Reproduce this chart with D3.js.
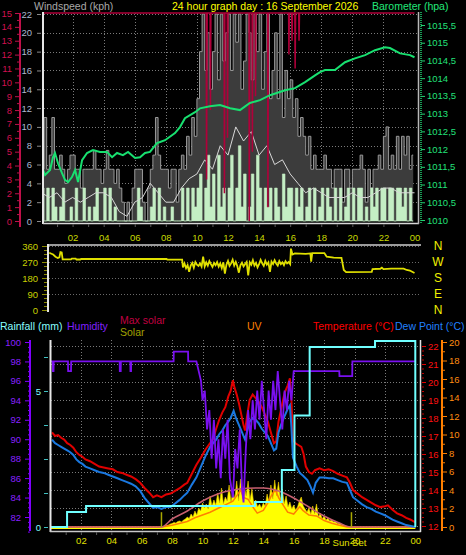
<!DOCTYPE html>
<html><head><meta charset="utf-8">
<script src="https://cdn.jsdelivr.net/npm/d3@7/dist/d3.min.js"></script>
<style>
html,body{margin:0;padding:0;background:#000;overflow:hidden}
svg{display:block}
</style></head><body>
<svg id="chart" width="466" height="555"></svg>
<script>
// ---------------- DATA ----------------
const hourTicks = [2,4,6,8,10,12,14,16,18,20,22,24];
const hourLabels = ["02","04","06","08","10","12","14","16","18","20","22","00"];
const windTicks = [0,2,4,6,8,10,12,14,16,18,20,22];
const crimsonTicks = [0,1,2,3,4,5,6,7,8,9,10,11,12,13,14,15];
const baroTicks = [1010,1010.5,1011,1011.5,1012,1012.5,1013,1013.5,1014,1014.5,1015,1015.5];
const dirTicks = [0,90,180,270,360];
const compassLabels = ["N","W","S","E","N"];
const humTicks = [82,84,86,88,90,92,94,96,98,100];
const rainTicks = [0,1.25,2.5,3.75,5,6.25];
const rainLabelled = [0,5];
const tempTicks = [12,13,14,15,16,17,18,19,20,21,22];
const uvTicks = [0,2,4,6,8,10,12,14,16,18,20];
const sunTimes = [7.3, 19.8];
const sampleMinutes = 10;

// wind gust (kph), one value per 10 minutes
const gust = [
 5.5,11,5.5,7,11,5.5,   5.5,7,5.5,4,5.5,7,   7,5.5,5.5,3.5,5.5,5.5,   5.5,5.5,7.5,5.5,5.5,4,
 5.5,7.5,5.5,5.5,4,5.5, 3.5,2,0,2,0,3.5,     5.5,5.5,5.5,2,0,3.5,     5.5,7,11,7,5.5,5.5,
 5.5,3.5,5.5,5.5,2,5.5, 7,5.5,9,7,11,9,      13,18,22,16,20,14,       18,22,15,22,17,20,
 22,16,22,19,22,14,     17,22,20,15,22,18,   22,14,18,22,13,16,       20,13,22,11,16,13,
 15,11,13,9,11,9,       7,9,5.5,7,5.5,5.5,   5.5,7,5.5,5.5,3.5,5.5,   5.5,5.5,2,5.5,5.5,3.5,
 5.5,5.5,5.5,7,5.5,2,   5.5,3.5,5.5,5.5,7,5.5, 9,10,5.5,7,5.5,9,     5.5,9,7,9,5.5,7];
// wind speed (kph), one value per 10 minutes
const speed = [
 3.5,0,3.5,0,3.5,1.5,   0,1.5,3.5,0,0,1.5,   0,3.5,0,0,3.5,0,         1.5,0,1.5,3.5,0,0,
 3.5,0,3.5,0,1.5,0,     0,0,0,0,0,0,         0,3.5,1.5,0,0,0,         1.5,3.5,0,3.5,0,1.5,
 0,0,1.5,0,0,0,         3.5,0,3.5,0,3.5,1.5, 3.5,5,0,3.5,7,1.5,       5,0,7,1.5,3.5,0,
 3.5,7,0,3.5,8,1.5,     5,0,1.5,5,0,7,       3.5,0,3.5,1.5,3.5,0,     3.5,1.5,0,5,1.5,3.5,
 3.5,0,3.5,1.5,3.5,0,   1.5,3.5,0,3.5,0,1.5, 3.5,0,3.5,1.5,0,3.5,     0,3.5,0,1.5,3.5,0,
 3.5,0,3.5,3.5,0,1.5,   0,3.5,1.5,3.5,0,3.5, 3.5,0,3.5,3.5,0,3.5,     3.5,1.5,3.5,0,3.5,0];
// average wind (kph), one value per 30 minutes
const avgWind = [3,2.5,3,2,2.5,2,2.5,3,3,2.5,1,0.5,2,2.5,4,3,2,2,3.5,4.5,5,6.5,5.5,8,7,10,8.5,9.5,7,8,6,6.5,5,4,3,3.5,3,2.5,2.5,2.5,3,2.5,2.5,3,3.5,3.5,3,3,3];
// crimson series [hour, value]
const crimsonSeries = [[0,16],[10.6,16],[10.62,3],[10.66,16],[10.85,16],[10.87,8],[10.9,16],[11.75,16],[11.77,2],[11.8,16],[11.95,16],[11.97,6],[12.0,16],[13.35,16],[13.37,0],[13.4,16],[13.55,16],[13.57,5],[13.6,16],[13.75,16],[13.77,9],[13.8,16],[14.55,16],[14.57,1],[14.6,16],[15.9,16],[15.92,12],[15.95,16],[16.1,16],[16.12,13],[16.15,16],[16.3,16],[16.32,11],[16.35,16],[16.55,16],[16.57,13],[16.6,16],[24,16]];
// barometer [hour, hPa]
const barometer = [[0.1,1011.41],[0.23,1011.27],[0.55,1011.41],[0.74,1011.77],[0.87,1011.89],[1.06,1011.6],[1.32,1011.32],[1.51,1011.13],[1.71,1011.07],[1.96,1011.21],[2.16,1011.41],[2.35,1011.07],[2.61,1011.69],[2.93,1011.89],[3.31,1011.97],[3.76,1011.92],[4.21,1011.92],[4.54,1011.77],[4.86,1011.89],[5.24,1011.83],[5.57,1011.92],[6.02,1011.75],[6.34,1011.77],[6.66,1011.89],[6.98,1011.92],[7.43,1012.17],[7.63,1012.2],[7.95,1012.25],[8.59,1012.45],[8.91,1012.62],[9.23,1012.87],[9.88,1013.04],[10.2,1013.15],[10.84,1013.21],[11.49,1013.24],[12.13,1013.15],[12.77,1013.1],[13.41,1013.3],[14.06,1013.38],[14.7,1013.52],[15.67,1013.66],[16.31,1013.72],[16.96,1013.89],[17.6,1014.08],[17.92,1014.17],[18.24,1014.23],[18.88,1014.23],[19.53,1014.45],[20.17,1014.56],[20.82,1014.65],[21.46,1014.79],[22.1,1014.87],[22.42,1014.85],[23.07,1014.7],[23.71,1014.65],[24.0,1014.59]];
// wind direction [hour, degrees]
const windDir = [[0.5,322],[0.6,318],[0.75,312],[0.9,300],[1.05,292],[1.15,296],[1.22,326],[1.3,324],[1.36,285],[1.9,285],[1.95,289],[2.2,289],[2.25,284],[2.5,284],[2.55,288],[3.0,287],[8.05,287],[8.1,283],[9.05,283],
[9.1,240],[9.2,262],[9.3,235],[9.4,252],[9.5,215],[9.6,250],[9.7,265],[9.8,238],[9.9,270],[10.0,255],[10.1,248],[10.2,262],[10.3,244],[10.4,300],[10.5,245],[10.6,268],[10.7,250],[10.8,275],[10.9,258],[11.0,242],[11.1,265],[11.2,252],[11.3,270],[11.4,244],[11.5,262],[11.6,236],[11.7,268],[11.8,205],[11.9,255],[12.0,276],[12.1,248],[12.2,262],[12.3,283],[12.4,250],[12.5,270],[12.6,246],[12.7,210],[12.8,252],[12.9,266],[13.0,245],[13.1,258],[13.2,270],[13.3,195],[13.4,268],[13.5,255],[13.6,280],[13.7,250],[13.8,265],[13.9,240],[14.0,258],[14.1,282],[14.2,262],[14.3,248],[14.4,276],[14.5,255],[14.6,268],[14.7,215],[14.8,272],[14.9,258],[15.0,280],[15.1,262],[15.2,250],[15.3,275],[15.4,258],[15.5,268],[15.6,252],[15.7,275],[15.8,262],[15.9,270],[16.0,258],
[16.05,345],[16.15,312],[16.3,318],[17.0,316],[17.3,318],[17.35,272],[17.42,320],[18.2,320],[18.35,300],[18.8,295],[19.3,293],[19.45,225],[19.6,213],[21.25,215],[21.3,230],[21.8,232],[21.9,238],[22.0,230],[22.5,233],[23.3,233],[23.5,225],[23.7,222],[24.0,208]];
// temperature [hour, °C]
const temperature = [[0.1,17.2],[0.3,17.0],[0.5,17.05],[0.7,16.9],[0.9,16.8],[1.1,16.6],[1.3,16.5],[1.5,16.35],[1.7,16.1],[1.9,15.95],[2.1,15.85],[2.3,15.7],[2.6,15.6],[2.9,15.45],[3.2,15.3],[3.5,15.25],[3.8,15.2],[4.1,15.15],[4.4,15.0],[4.7,14.95],[5.0,14.85],[5.3,14.75],[5.6,14.6],[5.9,14.4],[6.2,14.1],[6.5,13.85],[6.75,13.6],[7.0,13.7],[7.3,13.6],[7.6,13.75],[7.9,13.8],[8.2,13.95],[8.5,14.1],[8.8,14.3],[9.0,14.4],[9.3,14.9],[9.6,15.4],[9.9,15.8],[10.2,16.25],[10.5,16.6],[10.7,16.85],[10.9,17.4],[11.1,17.9],[11.3,18.3],[11.5,18.6],[11.7,19.2],[11.85,19.5],[12.0,20.1],[12.1,19.7],[12.25,19.3],[12.4,18.8],[12.55,18.2],[12.7,17.6],[12.8,17.3],[12.95,18.2],[13.1,19.0],[13.3,19.3],[13.5,19.1],[13.7,18.9],[13.9,18.6],[14.1,18.2],[14.3,17.8],[14.5,17.2],[14.7,16.6],[14.85,16.7],[15.0,17.8],[15.2,18.6],[15.4,19.4],[15.6,19.8],[15.75,20.2],[15.85,19.0],[15.95,16.8],[16.1,16.6],[16.3,16.5],[16.5,16.4],[16.65,16.0],[16.8,15.3],[17.0,15.0],[17.2,14.9],[17.4,15.1],[17.7,15.2],[18.0,15.1],[18.3,15.15],[18.6,15.05],[18.9,14.9],[19.2,14.8],[19.5,14.7],[19.7,14.4],[19.9,14.0],[20.2,13.8],[20.5,13.6],[20.8,13.45],[21.1,13.3],[21.4,13.15],[21.7,13.05],[22.0,13.1],[22.2,13.15],[22.5,12.9],[22.8,12.7],[23.1,12.6],[23.4,12.45],[23.7,12.35],[24.0,12.2]];
// dew point [hour, °C]
const dewPoint = [[0.1,16.8],[0.3,16.6],[0.5,16.5],[0.7,16.4],[0.9,16.3],[1.1,16.2],[1.3,16.1],[1.5,15.95],[1.7,15.7],[1.9,15.55],[2.1,15.45],[2.3,15.3],[2.6,15.2],[2.9,15.1],[3.2,15.0],[3.5,14.95],[3.8,14.85],[4.1,14.75],[4.4,14.65],[4.7,14.55],[5.0,14.45],[5.3,14.35],[5.6,14.2],[5.9,13.95],[6.2,13.55],[6.5,13.25],[6.75,13.0],[7.0,13.05],[7.3,12.95],[7.6,13.05],[7.9,13.05],[8.2,13.25],[8.5,13.45],[8.8,13.7],[9.0,13.85],[9.3,14.3],[9.6,14.7],[9.9,15.3],[10.2,15.9],[10.5,16.4],[10.7,16.6],[10.9,16.8],[11.1,17.1],[11.3,17.3],[11.5,17.6],[11.7,17.8],[11.85,18.0],[12.05,18.4],[12.2,18.0],[12.4,17.6],[12.6,17.2],[12.8,16.8],[12.95,17.3],[13.1,17.8],[13.3,18.0],[13.5,17.9],[13.7,17.7],[13.9,17.4],[14.1,17.2],[14.3,17.0],[14.5,16.6],[14.7,16.2],[14.85,16.3],[15.0,17.2],[15.2,17.7],[15.4,18.1],[15.6,18.5],[15.75,18.7],[15.85,17.5],[15.95,15.8],[16.2,15.3],[16.4,14.95],[16.6,14.8],[16.9,14.55],[17.1,14.2],[17.27,13.85],[17.45,14.4],[17.7,14.7],[18.0,14.7],[18.3,14.65],[18.6,14.65],[18.9,14.55],[19.2,14.45],[19.5,14.4],[19.7,14.0],[19.9,13.6],[20.2,13.4],[20.5,13.2],[20.8,13.05],[21.1,12.95],[21.4,12.8],[21.7,12.7],[22.0,12.6],[22.5,12.35],[22.8,12.25],[23.1,12.15],[23.4,12.05],[23.7,12.0],[24.0,11.95]];
// humidity [hour, %]
const humidity = [[0,98],[0.15,98],[0.16,97],[0.2,97],[0.21,98],[1.15,98],[1.16,97],[1.35,97],[1.36,98],[4.55,98],[4.56,97],[4.62,97],[4.63,98],[5.25,98],[5.26,97],[5.3,97],[5.31,98],[8.1,98],[8.11,99],[9.05,99],[9.06,98],[9.6,98],[9.75,97],[9.9,96],[10.0,94],[10.15,95],[10.3,91],[10.45,93],[10.6,88],[10.75,92],[10.9,87],[11.05,90],[11.2,86],[11.35,91],[11.5,88],[11.65,92],[11.8,86],[12.0,84],[12.15,89],[12.3,87],[12.45,91],[12.6,85],[12.7,83.5],[12.85,89],[13.0,93],[13.15,90],[13.3,94],[13.45,91],[13.6,95],[13.75,92],[13.9,96],[14.05,93],[14.2,90],[14.35,95],[14.5,92],[14.65,96],[14.8,93],[14.95,97],[15.1,94],[15.25,91],[15.4,95],[15.55,93],[15.7,96],[15.85,94],[16.0,97],[19.0,97],[19.01,96.5],[19.85,96.5],[19.86,98],[24,98]];
// rainfall [hour, mm]
const rainfall = [[0,0],[1.09,0],[1.09,0.55],[2.34,0.55],[2.34,0.77],[13.45,0.77],[13.45,0.92],[15.22,0.92],[15.22,2.1],[16.05,2.1],[16.05,4.1],[17.05,4.1],[17.05,6.62],[21.35,6.62],[21.35,6.84],[24,6.84],[24,0]];
// solar radiation [hour, W/m2]
const solar = [[0,0],[7.25,0],[7.375,10],[7.5,20],[7.625,25],[7.75,30],[7.875,40],[8.0,45],[8.125,55],[8.25,50],[8.375,65],[8.5,70],[8.625,60],[8.75,80],[8.875,90],[9.0,110],[9.125,95],[9.25,140],[9.375,110],[9.5,170],[9.625,130],[9.75,200],[9.875,170],[10.0,250],[10.125,200],[10.25,240],[10.375,190],[10.5,320],[10.625,220],[10.75,280],[10.875,230],[11.0,350],[11.125,250],[11.25,400],[11.375,240],[11.5,310],[11.625,270],[11.75,430],[11.875,260],[12.0,370],[12.125,290],[12.25,470],[12.375,270],[12.5,490],[12.625,290],[12.75,420],[12.875,320],[13.0,470],[13.125,280],[13.25,390],[13.375,240],[13.5,280],[13.625,210],[13.75,240],[13.875,200],[14.0,250],[14.125,220],[14.25,340],[14.375,260],[14.5,430],[14.625,290],[14.75,480],[14.875,320],[15.0,460],[15.125,280],[15.25,390],[15.375,240],[15.5,320],[15.625,210],[15.75,260],[15.875,190],[16.0,230],[16.125,180],[16.25,210],[16.375,270],[16.5,310],[16.625,220],[16.75,190],[16.875,160],[17.0,200],[17.125,140],[17.25,220],[17.375,140],[17.5,240],[17.625,110],[17.75,150],[17.875,90],[18.0,120],[18.125,80],[18.25,100],[18.375,70],[18.5,80],[18.625,60],[18.75,65],[18.875,45],[19.0,50],[19.125,35],[19.25,30],[19.375,20],[19.5,15],[19.625,5],[19.75,0],[24,0]];
// theoretical max solar [hour, W/m2]
const maxSolar = [[0,0],[7.3,0],[8,80],[9,160],[10,260],[11,330],[12,370],[13,388],[14,390],[15,360],[16,290],[17,200],[18,110],[19,40],[19.8,0],[24,0]];
// UV index [hour, index]
const uvIndex = [[0,0],[7.3,0],[8,0.2],[9,0.6],[9.5,1.0],[10,1.3],[10.5,1.6],[11,2.0],[11.5,2.4],[12,2.8],[12.3,3.5],[12.5,4.0],[12.7,3.2],[13,3.0],[13.3,2.2],[13.6,1.5],[14,1.8],[14.3,2.6],[14.6,3.6],[14.8,4.0],[15,3.2],[15.3,2.4],[15.6,1.6],[16,1.4],[16.4,2.2],[16.6,1.8],[17,1.3],[17.5,1.2],[18,0.7],[18.5,0.4],[19,0.2],[19.5,0],[24,0]];

// ---------------- DRAW ----------------
(function(){
const NARROW = '"Liberation Sans Narrow","Arial Narrow","Liberation Sans",Arial,sans-serif';
const SANS = '"Liberation Sans",Arial,sans-serif';
const svg = d3.select("#chart");
svg.append("rect").attr("width",466).attr("height",555).attr("fill","#000");
const defs = svg.append("defs");
function clip(id,x,y,w,h){defs.append("clipPath").attr("id",id).append("rect").attr("x",x).attr("y",y).attr("width",w).attr("height",h);}
clip("cTop",44,12,374,211);
clip("cMid",49,246,372,66);
clip("cBot",51,340,369,191);

function label(x,y,s,color,size,anchor,font){
  return svg.append("text").attr("x",x).attr("y",y).attr("fill",color).attr("font-size",size)
    .attr("font-family",font||SANS).attr("text-anchor",anchor||"start").attr("dominant-baseline","central").text(s);
}
function styleAxis(g,tickColor,textColor,size){
  g.select(".domain").remove();
  g.attr("font-family",NARROW).attr("font-size",size);
  g.selectAll(".tick line").attr("stroke",tickColor);
  g.selectAll(".tick text").attr("fill",textColor);
  return g;
}
function vline(x,y1,y2,color,w,dash){svg.append("line").attr("x1",x).attr("x2",x).attr("y1",y1).attr("y2",y2).attr("stroke",color).attr("stroke-width",w||1).attr("stroke-dasharray",dash||null);}
function hline(y,x1,x2,color,w,dash){svg.append("line").attr("x1",x1).attr("x2",x2).attr("y1",y).attr("y2",y).attr("stroke",color).attr("stroke-width",w||1).attr("stroke-dasharray",dash||null);}
const GRID = "#7a7a7a", DASH = "1,2";

// ===== TOP PANEL =====
const xT = d3.scaleLinear().domain([0,24]).range([41.5,414.5]);
const yW = d3.scaleLinear().domain([0,22]).range([221,14]);
const yC = d3.scaleLinear().domain([0,15]).range([221,13]).clamp(true);
const yB = d3.scaleLinear().domain([1010,1015.5]).range([220,25]);

hourTicks.slice(0,11).forEach(h=>vline(Math.round(xT(h))+0.5,13,223,GRID,1,DASH));
windTicks.slice(1).forEach(v=>hline(Math.round(yW(v))+0.5,44,418,GRID,1,DASH));

const topG = svg.append("g").attr("clip-path","url(#cTop)");
const gIdx = (d,i)=> i*sampleMinutes/60 + sampleMinutes/120;
topG.append("path").datum(gust).attr("fill","#3c3c3c").attr("stroke","none")
  .attr("d",d3.area().x((d,i)=>xT(gIdx(d,i))).y0(yW(0)).y1(d=>yW(d)).curve(d3.curveStep));
topG.append("path").datum(gust).attr("fill","none").attr("stroke","#999").attr("stroke-width",1)
  .attr("d",d3.line().x((d,i)=>xT(gIdx(d,i))).y(d=>yW(d)).curve(d3.curveStep));
topG.append("path").datum(speed).attr("fill","#c4eec4").attr("stroke","#c4eec4").attr("stroke-width",0.6)
  .attr("d",d3.area().x((d,i)=>xT(gIdx(d,i))).y0(yW(0)).y1(d=>yW(d)).curve(d3.curveStep));
topG.append("path").datum(avgWind).attr("fill","none").attr("stroke","#d8d8d8").attr("stroke-width",1)
  .attr("d",d3.line().x((d,i)=>xT(i*0.5)).y(d=>yW(d)));
topG.append("path").datum(crimsonSeries).attr("fill","none").attr("stroke","#b0003a").attr("stroke-width",1.5)
  .attr("d",d3.line().x(d=>xT(d[0])).y(d=>yC(d[1])));
topG.append("path").datum(barometer).attr("fill","none").attr("stroke","#18e070").attr("stroke-width",2)
  .attr("d",d3.line().x(d=>xT(d[0])).y(d=>yB(d[1])));

vline(43,12,224,"#e6e6e6",2);
hline(223.5,43,419,"#d8d8d8",1.5);
vline(418.5,12,224,"#b8b8b8",1.5);
svg.append("g").attr("transform","translate(0,224)").call(
  d3.axisBottom(xT).tickValues(d3.range(1,24)).tickSize(3).tickFormat("")).call(g=>styleAxis(g,"#5a5a5a","#000",8));

vline(20,13,227,"#c0104a",2);
styleAxis(svg.append("g").attr("transform","translate(20,0)")
  .call(d3.axisLeft(yC).tickValues(crimsonTicks).tickSize(5).tickPadding(3)),"#c0104a","#d01050",9.5);
styleAxis(svg.append("g").attr("transform","translate(20,0)")
  .call(d3.axisLeft(yC).tickValues(d3.range(0.5,15,1)).tickSize(3).tickFormat("")),"#c0104a","#d01050",9.5);
styleAxis(svg.append("g").attr("transform","translate(41,0)")
  .call(d3.axisLeft(yW).tickValues(windTicks).tickSize(4).tickPadding(5)),"#8a8a8a","#aab8d0",9.5);
vline(421,12,224,"#20d070",1.5,"1,1");
styleAxis(svg.append("g").attr("transform","translate(421,0)")
  .call(d3.axisRight(yB).tickValues(baroTicks).tickSize(4).tickPadding(2)
  .tickFormat(d=> d%1===0 ? String(d) : d3.format(".1f")(d).replace(".",","))),"#20d070","#22e07a",9.5);

label(34,5.5,"Windspeed (kph)","#a8a8a8",10.5);
label(172,5.5,"24 hour graph day : 16 September 2026","#ffff00",10.5);
label(372,5.5,"Barometer (hpa)","#22e87a",10.5);

// ===== MIDDLE PANEL (wind direction) =====
const yD = d3.scaleLinear().domain([0,360]).range([310,246]);
dirTicks.slice(1).forEach(v=>hline(Math.round(yD(v))+0.5,49,421,"#6a6a6a",1,DASH));
svg.append("g").attr("clip-path","url(#cMid)").append("path").datum(windDir)
  .attr("fill","none").attr("stroke","#e0e000").attr("stroke-width",1.8)
  .attr("d",d3.line().x(d=>xT(d[0])).y(d=>yD(d[1])));
hline(245,48,421,"#9a9a9a",2);
vline(48,244,312,"#e6e6e6",2);
styleAxis(svg.append("g").attr("transform","translate(47,0)")
  .call(d3.axisLeft(yD).tickValues(dirTicks).tickSize(5).tickPadding(4)),"#8a8a00","#c8d000",9.5);
styleAxis(svg.append("g").attr("transform","translate(47,0)")
  .call(d3.axisLeft(yD).tickValues(d3.range(22.5,360,22.5)).tickSize(3).tickFormat("")),"#8a8a00","#c8d000",9.5);
const xa = svg.append("g").attr("transform","translate(0,240.5)")
  .call(d3.axisTop(xT).tickValues(hourTicks).tickSize(0).tickPadding(0).tickFormat((d,i)=>hourLabels[i]));
styleAxis(xa,"#000","#c8d800",9.5);
dirTicks.slice().reverse().forEach((v,i)=>label(438,yD(v)-0.5,compassLabels[i],"#f0f000",12,"middle"));

// ===== BOTTOM PANEL =====
const xB = d3.scaleLinear().domain([0,24]).range([50.5,415.3]);
const yH = d3.scaleLinear().domain([82,100]).range([517,342]);
const yR = d3.scaleLinear().domain([0,5]).range([527,391]);
const yT = d3.scaleLinear().domain([12,22]).range([526,346]);
const yU = d3.scaleLinear().domain([0,20]).range([527,342]);
const yS = d3.scaleLinear().domain([0,1000]).range([528,428]);

hourTicks.slice(0,11).forEach(h=>vline(Math.round(xB(h))+0.5,340,531,GRID,1,DASH));
tempTicks.forEach(v=>hline(Math.round(yT(v))+0.5,51,420,GRID,1,DASH));

const bot = svg.append("g").attr("clip-path","url(#cBot)");
bot.append("path").datum(solar).attr("fill","#ffff00").attr("stroke","#e8c000").attr("stroke-width",0.6)
  .attr("d",d3.area().x(d=>xB(d[0])).y0(yS(0)).y1(d=>yS(d[1])));
bot.append("path").datum(solar).attr("fill","none").attr("stroke","#ffff00").attr("stroke-width",2)
  .attr("d",d3.line().x(d=>xB(d[0])).y(yS(0)));
bot.append("path").datum(uvIndex).attr("fill","none").attr("stroke","#ff8000").attr("stroke-width",1.5)
  .attr("d",d3.line().x(d=>xB(d[0])).y(d=>yU(d[1])));
bot.append("path").datum(maxSolar).attr("fill","none").attr("stroke","#c86070").attr("stroke-width",1.5)
  .attr("d",d3.line().x(d=>xB(d[0])).y(d=>yS(d[1])-1).curve(d3.curveMonotoneX));
sunTimes.forEach(t=>bot.append("line").attr("x1",xB(t)).attr("x2",xB(t)).attr("y1",yU(0)).attr("y2",yU(1.6))
  .attr("stroke","#a8a800").attr("stroke-width",1.5));
bot.append("path").datum(temperature).attr("fill","none").attr("stroke","#e00000").attr("stroke-width",2)
  .attr("d",d3.line().x(d=>xB(d[0])).y(d=>yT(d[1])));
bot.append("path").datum(dewPoint).attr("fill","none").attr("stroke","#1a78e0").attr("stroke-width",2)
  .attr("d",d3.line().x(d=>xB(d[0])).y(d=>yT(d[1])));
bot.append("path").datum(humidity).attr("fill","none").attr("stroke","#7a10f0").attr("stroke-width",1.8)
  .attr("d",d3.line().x(d=>xB(d[0])).y(d=>yH(d[1])));
bot.append("path").datum(rainfall).attr("fill","none").attr("stroke","#70ffff").attr("stroke-width",2)
  .attr("d",d3.line().x(d=>xB(d[0])).y(d=>yR(d[1])));

vline(50.5,340,532,"#e6e6e6",2);
hline(531.5,50,421,"#c8c8c8",1.5);
vline(420.5,340,532,"#e0e0e0",1.5);
svg.append("g").attr("transform","translate(0,532)").call(
  d3.axisBottom(xB).tickValues(d3.range(1,24)).tickSize(3).tickFormat("")).call(g=>styleAxis(g,"#5a5a5a","#000",8));

vline(30,340,531,"#8000ff",2);
styleAxis(svg.append("g").attr("transform","translate(30,0)")
  .call(d3.axisLeft(yH).tickValues(humTicks).tickSize(5).tickPadding(4)),"#8000ff","#8a20ff",9.5);
styleAxis(svg.append("g").attr("transform","translate(30,0)")
  .call(d3.axisLeft(yH).tickValues(d3.range(80.5,100,0.5).filter(v=>v%2!==0)).tickSize(2).tickFormat("")),"#8000ff","#8a20ff",9.5);
styleAxis(svg.append("g").attr("transform","translate(48,0)")
  .call(d3.axisLeft(yR).tickValues(rainTicks).tickSize(4).tickPadding(3)
  .tickFormat(d=> rainLabelled.includes(d) ? String(d) : "")),"#40c0c0","#80ffff",9.5);
styleAxis(svg.append("g").attr("transform","translate(422,0)")
  .call(d3.axisRight(yT).tickValues(tempTicks).tickSize(4).tickPadding(2)),"#e00000","#ff1010",9.5);
styleAxis(svg.append("g").attr("transform","translate(422,0)")
  .call(d3.axisRight(yT).tickValues(d3.range(12.25,22,0.25).filter(v=>v%1!==0)).tickSize(2).tickFormat("")),"#c00000","#ff1010",9.5);
vline(442,340,531,"#ff8000",2);
styleAxis(svg.append("g").attr("transform","translate(443,0)")
  .call(d3.axisRight(yU).tickValues(uvTicks).tickSize(4).tickPadding(2)),"#ff8000","#ff8c10",9.5);
styleAxis(svg.append("g").attr("transform","translate(443,0)")
  .call(d3.axisRight(yU).tickValues(d3.range(1,20,2)).tickSize(2).tickFormat("")),"#ff8000","#ff8c10",9.5);
styleAxis(svg.append("g").attr("transform","translate(0,532)")
  .call(d3.axisBottom(xB).tickValues(hourTicks).tickSize(0).tickPadding(5).tickFormat((d,i)=>hourLabels[i])),"#000","#e0e000",9.5);
label(xB(sunTimes[1])-2,542,"Sun Set","#e0e000",9.5,"middle",NARROW);

label(0,326,"Rainfall (mm)","#88ffff",10.5);
label(67,326,"Humidity","#8020ff",10.5);
label(120,320,"Max solar","#c00040",10.5);
label(120,332,"Solar","#a0a000",10.5);
label(247,326,"UV","#ff8000",10.5);
label(313,326,"Temperature (\u00b0C)","#ff0000",10.5);
label(395,326,"Dew Point (\u00b0C)","#2080ff",10.5);
})();
</script></body></html>
